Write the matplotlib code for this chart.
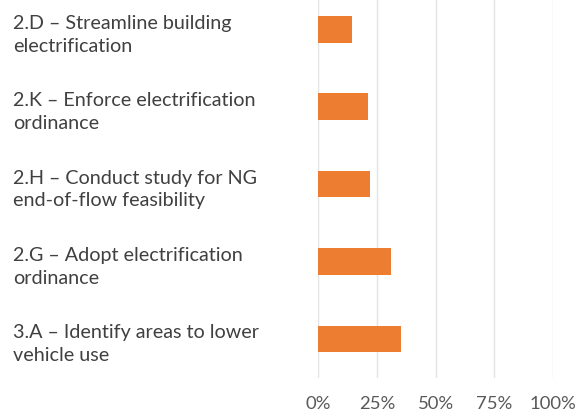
import matplotlib
matplotlib.use("Agg")
import matplotlib.pyplot as plt
import matplotlib.transforms as mtransforms

# data
labels = [
    "2.D – Streamline building\nelectrification",
    "2.K – Enforce electrification\nordinance",
    "2.H – Conduct study for NG\nend-of-flow feasibility",
    "2.G – Adopt electrification\nordinance",
    "3.A – Identify areas to lower\nvehicle use",
]
values = [14.2, 21.2, 22.0, 31.1, 35.4]
ticks = [0, 25, 50, 75, 100]
tick_labels = ["0%", "25%", "50%", "75%", "100%"]

plt.rcParams['font.family'] = ['Lato', 'DejaVu Sans']

fig = plt.figure(figsize=(5.79, 4.15), dpi=100)
ax = fig.add_axes([0.5497, 0.0898, 0.4054, 0.9331])

pos = list(range(len(labels)))
ax.barh(pos, values, height=0.345, color='#ED7D31', zorder=3)
ax.set_ylim(len(labels) - 0.5, -0.5)
ax.set_xlim(0, 100)

ax.set_xticks(ticks)
ax.set_xticklabels(tick_labels, fontsize=13.3, color='#595959')
ax.tick_params(axis='x', length=0, pad=13)
ax.set_yticks([])
ax.grid(axis='x', color='#E3E3E3', linewidth=1, zorder=0)
for s in ax.spines.values():
    s.set_visible(False)

trans = mtransforms.blended_transform_factory(fig.transFigure, ax.transData)
for p, lab in zip(pos, labels):
    ax.text(13 / 579, p + 0.07, lab, transform=trans, ha='left', va='center',
            fontsize=14.2, color='#404040', linespacing=1.42, clip_on=False)

fig.savefig("out.png", dpi=100)
